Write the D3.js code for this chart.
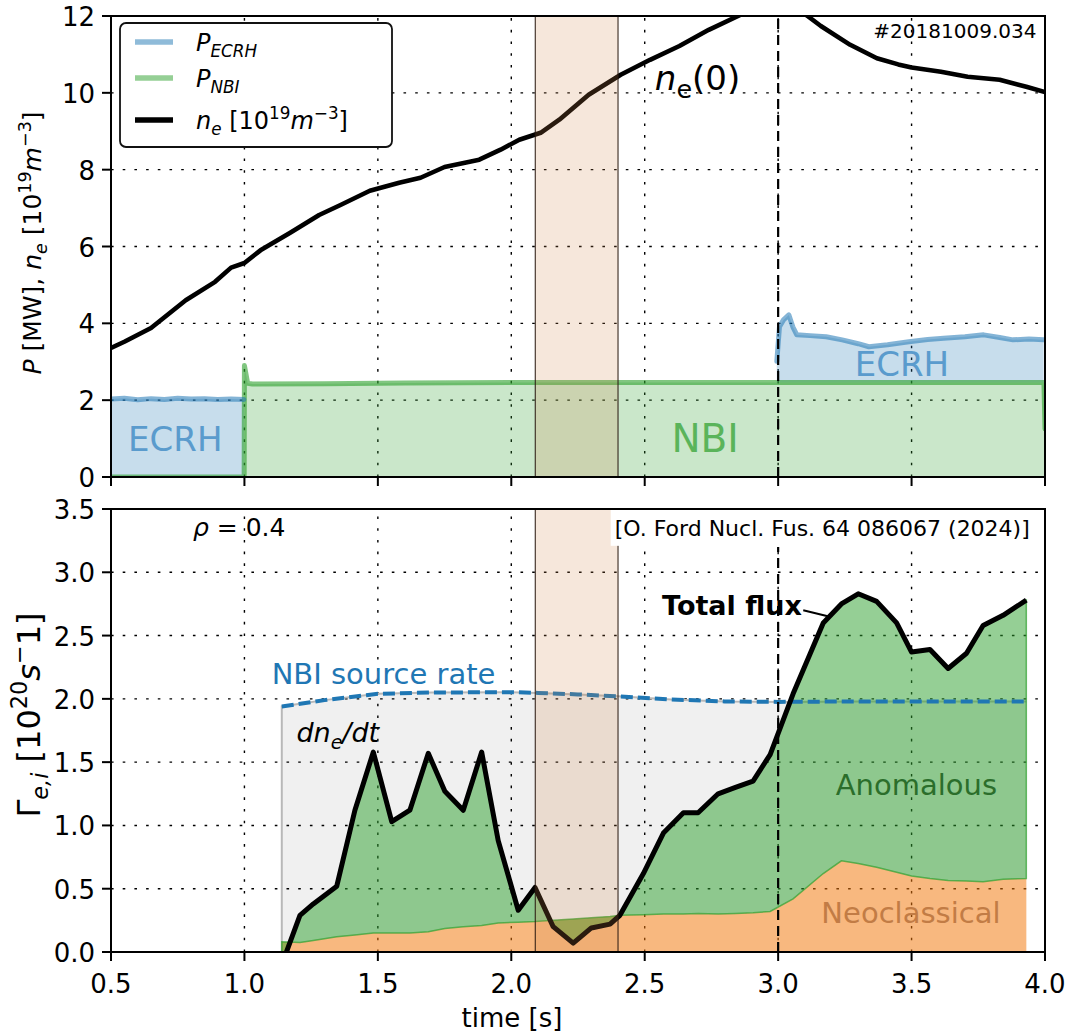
<!DOCTYPE html>
<html>
<head>
<meta charset="utf-8">
<title>W7-X 20181009.034</title>
<style>
	body { margin: 0; background: #fff; }
	svg { font-family: "DejaVu Sans", sans-serif; }
</style>
</head>
<body>
<svg id="fig" width="1068" height="1035"></svg>
<script src="https://cdn.jsdelivr.net/npm/d3@7"></script>
<script>
"use strict";

// ticks
var xTicks = [0.5, 1.0, 1.5, 2.0, 2.5, 3.0, 3.5, 4.0];
var topTicks = [0, 2, 4, 6, 8, 10, 12];
var botTicks = [0.0, 0.5, 1.0, 1.5, 2.0, 2.5, 3.0, 3.5];

// central density n_e(0) [1e19 m^-3]
var neTime = [0.5, 0.55, 0.65, 0.78, 0.89, 0.95, 1.0, 1.06, 1.17, 1.28, 1.36, 1.47, 1.58, 1.66, 1.75, 1.88, 1.96, 2.03, 2.11, 2.18, 2.29, 2.41, 2.52, 2.63, 2.74, 2.85, 2.92, 3.0, 3.06, 3.11, 3.16, 3.27, 3.37, 3.45, 3.5, 3.61, 3.71, 3.83, 3.93, 4.0];
var neVal  = [3.36, 3.52, 3.88, 4.6, 5.08, 5.45, 5.57, 5.9, 6.35, 6.82, 7.08, 7.45, 7.66, 7.79, 8.07, 8.26, 8.52, 8.78, 8.96, 9.3, 9.95, 10.47, 10.86, 11.22, 11.64, 12.0, 12.25, 12.4, 12.3, 12.0, 11.74, 11.25, 10.9, 10.74, 10.66, 10.55, 10.42, 10.34, 10.16, 10.02];

// heating power [MW]  (null = ECRH off)
var ecrhTime = [0.5, 0.55, 0.6, 0.65, 0.7, 0.75, 0.8, 0.85, 0.9, 0.95, 0.998, null, 2.995, 3.005, 3.02, 3.04, 3.055, 3.07, 3.12, 3.18, 3.24, 3.3, 3.34, 3.41, 3.49, 3.56, 3.62, 3.7, 3.77, 3.83, 3.88, 3.94, 3.995];
var ecrhVal  = [2.03, 2.05, 2.01, 2.04, 2.02, 2.05, 2.03, 2.04, 2.02, 2.03, 2.02, null, 0.55, 1.45, 1.63, 1.76, 1.45, 1.24, 1.22, 1.19, 1.11, 1.01, 0.93, 0.98, 1.06, 1.12, 1.15, 1.19, 1.24, 1.17, 1.11, 1.13, 1.11];
var nbiTime = [0.5, 0.999, 1.0, 1.004, 1.012, 1.03, 1.3, 1.6, 2.0, 2.5, 3.0, 3.5, 3.996, 4.0];
var nbiVal  = [0, 0, 2.9, 2.75, 2.44, 2.42, 2.43, 2.45, 2.46, 2.46, 2.46, 2.46, 2.46, 1.25];

// particle fluxes at rho = 0.4 [1e20 s^-1]
var fluxTime  = [1.14, 1.208, 1.258, 1.346, 1.414, 1.483, 1.552, 1.62, 1.689, 1.751, 1.82, 1.889, 1.951, 2.026, 2.089, 2.157, 2.232, 2.3, 2.37, 2.407, 2.495, 2.57, 2.645, 2.70, 2.775, 2.84, 2.906, 2.97, 3.056, 3.169, 3.237, 3.30, 3.369, 3.444, 3.50, 3.569, 3.637, 3.706, 3.768, 3.843, 3.93];
var totalFlux = [-0.1, 0.29, 0.38, 0.52, 1.12, 1.58, 1.03, 1.12, 1.57, 1.27, 1.12, 1.58, 0.88, 0.33, 0.51, 0.2, 0.07, 0.19, 0.22, 0.29, 0.62, 0.94, 1.10, 1.10, 1.25, 1.30, 1.35, 1.56, 2.04, 2.60, 2.75, 2.83, 2.77, 2.60, 2.37, 2.39, 2.24, 2.36, 2.58, 2.66, 2.78];
var neoFlux   = [0.08, 0.075, 0.09, 0.12, 0.135, 0.15, 0.15, 0.15, 0.16, 0.185, 0.2, 0.21, 0.23, 0.235, 0.24, 0.25, 0.26, 0.27, 0.28, 0.29, 0.295, 0.3, 0.3, 0.305, 0.3, 0.305, 0.31, 0.32, 0.42, 0.62, 0.72, 0.7, 0.67, 0.63, 0.6, 0.58, 0.565, 0.56, 0.555, 0.575, 0.58];
var srcTime = [1.14, 1.3, 1.5, 1.7, 2.0, 2.1, 2.25, 2.4, 2.6, 2.8, 3.0, 3.3, 3.6, 3.93];
var srcVal  = [1.94, 1.99, 2.04, 2.05, 2.053, 2.047, 2.035, 2.02, 1.995, 1.98, 1.976, 1.98, 1.98, 1.98];

var boxTimes = [2.09, 2.40];
var markTime = 3.0;

var C = { blue: "#1f77b4", green: "#2ca02c", orange: "#ff7f0e" };
var TICK = 26;

var svg = d3.select("#fig");
var x  = d3.scaleLinear().domain([0.5, 4.0]).range([111, 1045]);
var yT = d3.scaleLinear().domain([0, 12]).range([477, 16]);
var yB = d3.scaleLinear().domain([0, 3.5]).range([952, 509]);

function interp(xs, ys, t) {
	var i = d3.bisectRight(xs, t);
	if (i <= 0) return ys[0];
	if (i >= xs.length) return ys[ys.length - 1];
	var f = (t - xs[i - 1]) / (xs[i] - xs[i - 1]);
	return ys[i - 1] + f * (ys[i] - ys[i - 1]);
}

// text with sub/superscripts
function rich(sel, parts, size) {
	var shift = 0;
	parts.forEach(function (p) {
		var r = p.r || ((p.sub || p.sup) ? 0.7 : 1);
		var target = p.sub ? 0.25 * size : (p.sup ? -0.4 * size : 0);
		var ts = sel.append("tspan").text(p.t)
			.attr("dy", target - shift)
			.style("font-size", (size * r) + "px");
		if (p.it) ts.style("font-style", "italic");
		shift = target;
	});
	return sel;
}

var defs = svg.append("defs");
function panel(id, y) {
	defs.append("clipPath").attr("id", id).append("rect")
		.attr("x", x.range()[0]).attr("y", y.range()[1])
		.attr("width", x.range()[1] - x.range()[0])
		.attr("height", y.range()[0] - y.range()[1]);
	return svg.append("g").attr("clip-path", "url(#" + id + ")");
}

function grid(g, y, yt) {
	g.selectAll(".gx").data(xTicks).enter().append("line")
		.attr("x1", function (d) { return x(d); }).attr("x2", function (d) { return x(d); })
		.attr("y1", y.range()[0]).attr("y2", y.range()[1]);
	g.selectAll(".gy").data(yt).enter().append("line")
		.attr("x1", x.range()[0]).attr("x2", x.range()[1])
		.attr("y1", function (d) { return y(d); }).attr("y2", function (d) { return y(d); });
	g.selectAll("line").attr("stroke", "#000").attr("stroke-width", 1.4).attr("stroke-dasharray", "2.6,9.1");
}

function axes(y, yt, fmt, labels) {
	var g = svg.append("g");
	g.selectAll(".ty").data(yt).enter().append("line")
		.attr("x1", x.range()[0] - 9).attr("x2", x.range()[0])
		.attr("y1", function (d) { return y(d); }).attr("y2", function (d) { return y(d); })
		.attr("stroke", "#000").attr("stroke-width", 2);
	g.selectAll(".ly").data(yt).enter().append("text")
		.attr("x", x.range()[0] - 16).attr("y", function (d) { return y(d) + 10; })
		.attr("text-anchor", "end").style("font-size", TICK + "px")
		.text(fmt);
	g.selectAll(".tx").data(xTicks).enter().append("line")
		.attr("x1", function (d) { return x(d); }).attr("x2", function (d) { return x(d); })
		.attr("y1", y.range()[0]).attr("y2", y.range()[0] + 9)
		.attr("stroke", "#000").attr("stroke-width", 2);
	if (labels) {
		g.selectAll(".lx").data(xTicks).enter().append("text")
			.attr("x", function (d) { return x(d); }).attr("y", y.range()[0] + 41)
			.attr("text-anchor", "middle").style("font-size", TICK + "px")
			.text(d3.format(".1f"));
	}
	g.append("rect")
		.attr("x", x.range()[0]).attr("y", y.range()[1])
		.attr("width", x.range()[1] - x.range()[0]).attr("height", y.range()[0] - y.range()[1])
		.attr("fill", "none").attr("stroke", "#000").attr("stroke-width", 2);
}

function vbox(g, y) {
	g.append("rect")
		.attr("x", x(boxTimes[0])).attr("width", x(boxTimes[1]) - x(boxTimes[0]))
		.attr("y", y.range()[1]).attr("height", y.range()[0] - y.range()[1])
		.attr("fill", "#d2894a").attr("fill-opacity", 0.2)
		.attr("stroke", "#2a1a10").attr("stroke-opacity", 0.85).attr("stroke-width", 1.2);
}

function vmark(g, y, top) {
	g.append("line")
		.attr("x1", x(markTime)).attr("x2", x(markTime))
		.attr("y1", y(0)).attr("y2", y(top))
		.attr("stroke", "#000").attr("stroke-width", 2.2).attr("stroke-dasharray", "10,6");
}

// ---------------- top panel ----------------
var gT = panel("clipT", yT);
grid(gT, yT, topTicks);

var nbiPts = nbiTime.map(function (t, i) { return { t: t, v: nbiVal[i] }; });
var ecrhPts = ecrhTime.map(function (t, i) {
	if (t == null) return { t: null };
	var b = interp(nbiTime, nbiVal, t);
	return { t: t, lo: b, hi: b + ecrhVal[i] };
});

gT.append("path").datum(nbiPts)
	.attr("d", d3.area().x(function (d) { return x(d.t); }).y0(yT(0)).y1(function (d) { return yT(d.v); }))
	.attr("fill", C.green).attr("fill-opacity", 0.25);
gT.append("path").datum(ecrhPts)
	.attr("d", d3.area().defined(function (d) { return d.t != null; })
		.x(function (d) { return x(d.t); }).y0(function (d) { return yT(d.lo); }).y1(function (d) { return yT(d.hi); }))
	.attr("fill", C.blue).attr("fill-opacity", 0.25);
gT.append("path").datum(nbiPts)
	.attr("d", d3.line().x(function (d) { return x(d.t); }).y(function (d) { return yT(d.v); }))
	.attr("fill", "none").attr("stroke", C.green).attr("stroke-opacity", 0.6)
	.attr("stroke-width", 5).attr("stroke-linejoin", "round").attr("stroke-linecap", "round");
gT.append("path").datum(ecrhPts)
	.attr("d", d3.line().defined(function (d) { return d.t != null; })
		.x(function (d) { return x(d.t); }).y(function (d) { return yT(d.hi); }))
	.attr("fill", "none").attr("stroke", C.blue).attr("stroke-opacity", 0.55)
	.attr("stroke-width", 5).attr("stroke-linejoin", "round").attr("stroke-linecap", "round");
gT.append("path").datum(neTime.map(function (t, i) { return { t: t, v: neVal[i] }; }))
	.attr("d", d3.line().x(function (d) { return x(d.t); }).y(function (d) { return yT(d.v); }))
	.attr("fill", "none").attr("stroke", "#000").attr("stroke-width", 4.6).attr("stroke-linejoin", "round");
vmark(gT, yT, 12);
vbox(gT, yT);

var tT = svg.append("g");
tT.append("text").attr("x", x(3.968)).attr("y", yT(11.42)).attr("text-anchor", "end")
	.style("font-size", "20px").text("#20181009.034");
rich(tT.append("text").attr("x", x(2.538)).attr("y", yT(10.08)),
	[{ t: "n", it: true }, { t: "e", sub: true, r: 0.75 }, { t: "(0)" }], 34);
tT.append("text").attr("x", x(0.564)).attr("y", yT(0.685)).attr("fill", "#5a9bcd")
	.style("font-size", "34px").text("ECRH");
tT.append("text").attr("x", x(3.287)).attr("y", yT(2.63)).attr("fill", "#5a9bcd")
	.style("font-size", "34px").text("ECRH");
tT.append("text").attr("x", x(2.60)).attr("y", yT(0.66)).attr("fill", "#5ab45a")
	.style("font-size", "39px").text("NBI");

// legend
var lg = svg.append("g");
lg.append("rect").attr("x", 120).attr("y", 23).attr("width", 272).attr("height", 124)
	.attr("rx", 6).attr("fill", "#fff").attr("stroke", "#111").attr("stroke-width", 1.8);
var legItems = [
	{ y: 42, col: C.blue, op: 0.5, parts: [{ t: "P", it: true }, { t: "ECRH", it: true, sub: true }] },
	{ y: 78, col: C.green, op: 0.5, parts: [{ t: "P", it: true }, { t: "NBI", it: true, sub: true }] },
	{ y: 120, col: "#000", op: 1, parts: [{ t: "n", it: true }, { t: "e", it: true, sub: true }, { t: " [10" }, { t: "19", sup: true }, { t: "m", it: true }, { t: "\u22123", sup: true }, { t: "]" }] }
];
legItems.forEach(function (d) {
	lg.append("line").attr("x1", 135).attr("x2", 173).attr("y1", d.y).attr("y2", d.y)
		.attr("stroke", d.col).attr("stroke-opacity", d.op).attr("stroke-width", 5.5);
	rich(lg.append("text").attr("x", 196).attr("y", d.y + 9), d.parts, 24);
});

axes(yT, topTicks, d3.format("d"), false);
rich(svg.append("text").attr("transform", "translate(41,243) rotate(-90)").attr("text-anchor", "middle"),
	[{ t: "P", it: true }, { t: " [MW], " }, { t: "n", it: true }, { t: "e", it: true, sub: true }, { t: " [10" }, { t: "19", sup: true }, { t: "m", it: true }, { t: "\u22123", sup: true }, { t: "]" }], 25);

// ---------------- bottom panel ----------------
var gB = panel("clipB", yB);
grid(gB, yB, botTicks);

var srcPts = srcTime.map(function (t, i) { return { t: t, v: srcVal[i] }; });
var fluxPts = fluxTime.map(function (t, i) { return { t: t, tot: totalFlux[i], neo: neoFlux[i] }; });

gB.append("path").datum(srcPts)
	.attr("d", d3.area().x(function (d) { return x(d.t); }).y0(yB(0)).y1(function (d) { return yB(d.v); }))
	.attr("fill", "#000").attr("fill-opacity", 0.06);
gB.append("path").datum([{ t: srcTime[0], v: 0 }].concat(srcPts))
	.attr("d", d3.line().x(function (d) { return x(d.t); }).y(function (d) { return yB(d.v); }))
	.attr("fill", "none").attr("stroke", "#b8b8b8").attr("stroke-width", 2);
gB.append("path").datum(fluxPts)
	.attr("d", d3.area().x(function (d) { return x(d.t); }).y0(yB(0)).y1(function (d) { return yB(d.neo); }))
	.attr("fill", C.orange).attr("fill-opacity", 0.5);
gB.append("path").datum(fluxPts)
	.attr("d", d3.area().x(function (d) { return x(d.t); }).y0(function (d) { return yB(d.neo); }).y1(function (d) { return yB(d.tot); }))
	.attr("fill", C.green).attr("fill-opacity", 0.5)
	.attr("stroke", C.green).attr("stroke-opacity", 0.7).attr("stroke-width", 1.5);
gB.append("path").datum(srcPts)
	.attr("d", d3.line().x(function (d) { return x(d.t); }).y(function (d) { return yB(d.v); }))
	.attr("fill", "none").attr("stroke", C.blue).attr("stroke-width", 4).attr("stroke-dasharray", "12,5");
gB.append("path").datum(fluxPts)
	.attr("d", d3.line().x(function (d) { return x(d.t); }).y(function (d) { return yB(d.tot); }))
	.attr("fill", "none").attr("stroke", "#000").attr("stroke-width", 5).attr("stroke-linejoin", "round");
vmark(gB, yB, 3.2);
vbox(gB, yB);

var tB = svg.append("g");
rich(tB.append("text").attr("x", x(0.807)).attr("y", yB(3.286)),
	[{ t: "\u03c1", it: true }, { t: " = 0.4" }], 25);
var cite = tB.append("text").attr("x", x(3.943)).attr("y", yB(3.288)).attr("text-anchor", "end")
	.style("font-size", "22px").text("[O. Ford Nucl. Fus. 64 086067 (2024)]");
var cb = cite.node().getBBox();
tB.insert("rect", "text").attr("x", cb.x - 4).attr("y", yB(3.5) + 1)
	.attr("width", cb.width + 8).attr("height", cb.y + cb.height - yB(3.5) + 4).attr("fill", "#fff");
tB.append("text").attr("x", x(1.102)).attr("y", yB(2.115)).attr("fill", C.blue)
	.style("font-size", "29px").text("NBI source rate");
rich(tB.append("text").attr("x", x(1.195)).attr("y", yB(1.661)),
	[{ t: "dn", it: true }, { t: "e", it: true, sub: true }, { t: "/dt", it: true }], 27);
tB.append("text").attr("x", x(3.089)).attr("y", yB(2.663)).attr("text-anchor", "end")
	.style("font-size", "27px").style("font-weight", "bold").text("Total flux");
tB.append("line").attr("x1", x(3.094)).attr("y1", yB(2.70)).attr("x2", x(3.19)).attr("y2", yB(2.65))
	.attr("stroke", "#000").attr("stroke-width", 2);
tB.append("text").attr("x", x(3.216)).attr("y", yB(1.24)).attr("fill", "#2b6e2b")
	.style("font-size", "29px").text("Anomalous");
tB.append("text").attr("x", x(3.162)).attr("y", yB(0.227)).attr("fill", "#c27c45")
	.style("font-size", "29px").text("Neoclassical");

axes(yB, botTicks, d3.format(".1f"), true);
rich(svg.append("text").attr("transform", "translate(40,715) rotate(-90)").attr("text-anchor", "middle"),
	[{ t: "\u0393" }, { t: "e,i", it: true, sub: true }, { t: " [10" }, { t: "20", sup: true }, { t: "s", it: true }, { t: "\u2212", sup: true }, { t: "1]" }], 32);
svg.append("text").attr("x", 512).attr("y", 1027).attr("text-anchor", "middle")
	.style("font-size", TICK + "px").text("time [s]");
</script>
</body>
</html>
